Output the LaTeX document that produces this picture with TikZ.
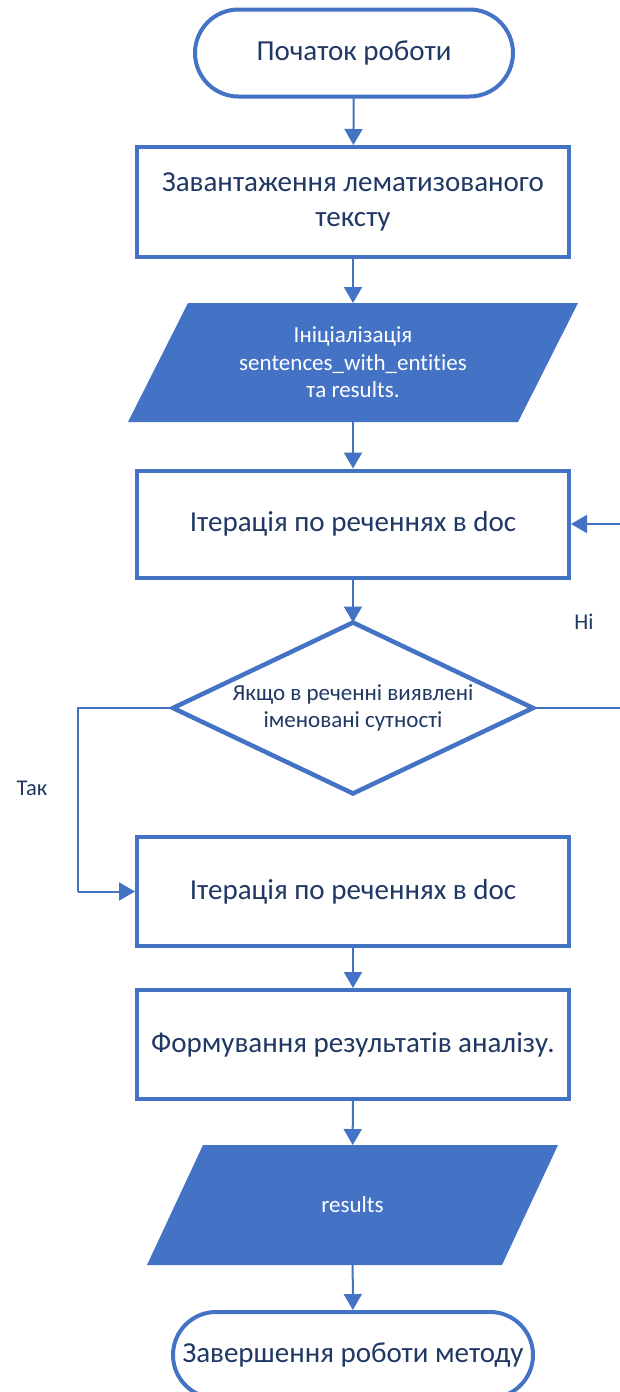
\documentclass[tikz,border=0pt]{standalone}
\usepackage{fontspec}
\setmainfont{Carlito}[Ligatures=NoCommon]
\usetikzlibrary{arrows.meta,shapes.misc}
\definecolor{flowblue}{HTML}{4472C4}
\definecolor{flowtext}{HTML}{203864}
\tikzset{
  boxtext/.style={font=\fontsize{29}{35}\selectfont, text=flowtext, align=center},
  process/.style={boxtext, draw=flowblue, line width=4pt, fill=white, inner sep=0pt},
  terminal/.style={boxtext, rounded rectangle, draw=flowblue, line width=4pt, fill=white, inner sep=0pt},
  iotext/.style={font=\fontsize{23}{27.5}\selectfont, text=white, align=center, inner sep=0pt, outer sep=0pt},
  decisiontext/.style={font=\fontsize{23}{26.5}\selectfont, text=flowtext, align=center, inner sep=0pt, outer sep=0pt},
  branchlabel/.style={font=\fontsize{22.5}{26}\selectfont, text=flowtext},
  flow/.style={draw=flowblue, line width=2pt, -{Triangle[width=18pt,length=16pt]}},
  loopline/.style={draw=flowblue, line width=2pt},
}
\begin{document}
\begin{tikzpicture}[x=1pt,y=-1pt]
\useasboundingbox (0,0) rectangle (619,1392);

% main column of blocks
\node[terminal, minimum width=318pt, minimum height=87pt] (start) at (354,53) {Початок роботи};
\node[process, minimum width=432pt, minimum height=110pt] (load) at (353,202) {Завантаження лематизованого\\тексту};

% input/output: initialisation
\node[iotext, minimum width=390pt, minimum height=119pt] (init) at (353,362.5) {};
\fill[flowblue] ([xshift=30pt]init.north west) -- ([xshift=30pt]init.north east)
  -- ([xshift=-30pt]init.south east) -- ([xshift=-30pt]init.south west) -- cycle;
\node[iotext] (inittext) at (init.center) {Ініціалізація\\sentences\_with\_entities\\та results.};

\node[process, minimum width=432pt, minimum height=107pt] (iter) at (353,524) {Ітерація по реченнях в doc};

% decision
\node[decisiontext, minimum width=360pt, minimum height=171pt] (dec) at (353,708) {};
\draw[flowblue, line width=4.5pt, line join=miter, fill=white] (dec.north) -- (dec.east) -- (dec.south) -- (dec.west) -- cycle;
\node[decisiontext] (dectext) at (dec.center) {Якщо в реченні виявлені\\іменовані сутності};

\node[process, minimum width=432pt, minimum height=109pt] (iter2) at (353,891.5) {Ітерація по реченнях в doc};
\node[process, minimum width=432pt, minimum height=109pt] (form) at (353,1044.5) {Формування результатів аналізу.};

% input/output: results
\node[iotext, minimum width=355pt, minimum height=120pt] (res) at (352.5,1205) {};
\fill[flowblue] ([xshift=28pt]res.north west) -- ([xshift=28pt]res.north east)
  -- ([xshift=-28pt]res.south east) -- ([xshift=-28pt]res.south west) -- cycle;
\node[iotext] (restext) at (res.center) {results};

\node[terminal, minimum width=360pt, minimum height=86pt] (end) at (353,1355) {Завершення роботи методу};

% straight connectors
\draw[flow] (start) -- (load);
\draw[flow] (load) -- (init);
\draw[flow] (init) -- (iter);
\draw[flow] (iter) -- (dec.north);
\draw[flow] (iter2) -- (form);
\draw[flow] (form) -- (res);
\draw[flow] (res) -- (end);

% "no" branch back to the loop head
\coordinate (noturn) at (625,708);
\coordinate (noback) at (625,524);
\draw[loopline] (dec.east) -- (noturn) -- (noback);
\draw[flow] (noback) -- (iter.east);
\node[branchlabel] (nolabel) at (584,622) {Ні};

% "yes" branch
\coordinate (yesturn) at (78,708);
\coordinate (yesdown) at (78,891.5);
\draw[loopline] (dec.west) -- (yesturn) -- (yesdown);
\draw[flow] (yesdown) -- (iter2.west);
\node[branchlabel] (yeslabel) at (32,788) {Так};
\end{tikzpicture}
\end{document}
